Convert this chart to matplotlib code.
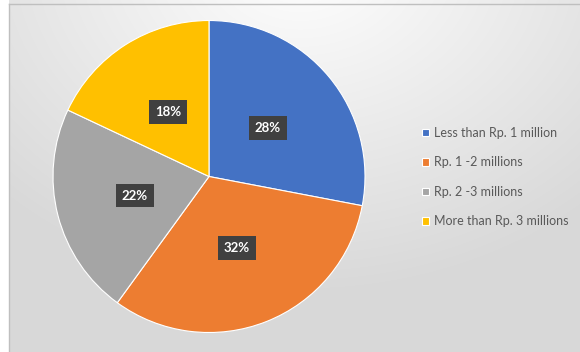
import numpy as np
import matplotlib.pyplot as plt

plt.rcParams['font.family'] = ['Lato', 'DejaVu Sans']

categories = ['Less than Rp. 1 million', 'Rp. 1 -2 millions',
              'Rp. 2 -3 millions', 'More than Rp. 3 millions']
shares = [28, 32, 22, 18]
colors = ['#4472C4', '#ED7D31', '#A5A5A5', '#FFC000']

W, H = 580, 352
fig = plt.figure(figsize=(W / 100, H / 100), dpi=100)

# background: soft radial gradient inside a thin gray frame
bg = fig.add_axes([0, 0, 1, 1])
yy, xx = np.mgrid[0:H, 0:W]
d = np.hypot((xx - 300) / 420., (yy + 40) / 330.)
shade = 1 - 0.15 * np.clip(d, 0, 1)
img = np.dstack([shade, shade, shade])
img[:, :9] = 1.0
bg.imshow(img, extent=[0, W, H, 0], aspect='auto', interpolation='bilinear')
bg.plot([9, 9], [4, H], color='#bfbfbf', lw=1)
bg.plot([9, W], [4, 4], color='#bfbfbf', lw=1)
bg.set_xlim(0, W)
bg.set_ylim(H, 0)
bg.axis('off')

cx, cy, r = 209, 176.5, 156
ax = fig.add_axes([(cx - r) / W, (H - cy - r) / H, 2 * r / W, 2 * r / H])
wedges, texts, autotexts = ax.pie(
    shares, colors=colors, startangle=90, counterclock=False,
    autopct='%d%%', pctdistance=0.49,
    wedgeprops=dict(edgecolor='white', linewidth=0.8),
    textprops=dict(color='white', fontsize=9.5, fontweight='bold'))
for t in autotexts:
    t.set_bbox(dict(boxstyle='square,pad=0.45', facecolor='#404040',
                    edgecolor='none'))
ax.set_xlim(-1.0, 1.0)
ax.set_ylim(-1.0, 1.0)
ax.set_aspect('equal')

fig.legend(wedges, categories, loc='center left',
           bbox_to_anchor=(411 / W, 1 - 177 / H), frameon=False,
           fontsize=9, labelcolor='#595959', handlelength=0.55,
           handleheight=0.55, handletextpad=0.4, labelspacing=1.4)

fig.savefig('out.png', dpi=100)
